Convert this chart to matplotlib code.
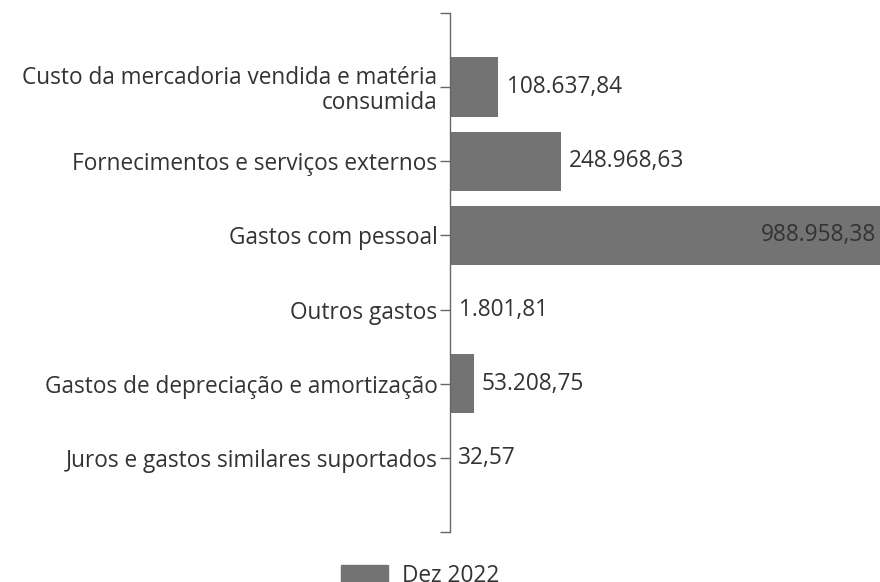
import matplotlib
matplotlib.use("Agg")
import matplotlib.pyplot as plt
from matplotlib.patches import Patch

plt.rcParams['font.family'] = ['Open Sans', 'DejaVu Sans']

categorias = ["Custo da mercadoria vendida e matéria\nconsumida",
              "Fornecimentos e serviços externos",
              "Gastos com pessoal",
              "Outros gastos",
              "Gastos de depreciação e amortização",
              "Juros e gastos similares suportados"]
valores = [108637.84, 248968.63, 988958.38, 1801.81, 53208.75, 32.57]
rotulos = ["108.637,84", "248.968,63", "988.958,38", "1.801,81", "53.208,75", "32,57"]
serie = "Dez 2022"

cor_barra = "#737373"
cor_texto = "#333333"
fs = 16.3

fig = plt.figure(figsize=(8.8, 5.82), dpi=100)
ax = fig.add_axes([450/880, 1 - 532/582, 430/880, 519/582])

pos = list(range(len(categorias)))
ax.barh(pos, valores, height=0.8, color=cor_barra)
ax.set_xlim(0, 966000)
ax.set_ylim(len(categorias), -1)

for p, v, r in zip(pos, valores, rotulos):
    if v > 800000:
        ax.annotate(r, (966000, p), xytext=(-3, 0), textcoords="offset points",
                    ha="right", va="center", fontsize=fs, color=cor_texto)
    else:
        ax.annotate(r, (v, p), xytext=(6, 0), textcoords="offset points",
                    ha="left", va="center", fontsize=fs, color=cor_texto)

ax.set_yticks([-1] + pos + [len(categorias)])
ax.set_yticklabels([""] + categorias + [""], fontsize=fs, color=cor_texto, linespacing=1.05)
ax.tick_params(axis="y", length=7, width=1, color="#666666", pad=2)
ax.set_xticks([])
for s in ["top", "right", "bottom"]:
    ax.spines[s].set_visible(False)
ax.spines["left"].set_color("#666666")
ax.spines["left"].set_linewidth(1)

fig.legend(handles=[Patch(color=cor_barra, label=serie)], loc="lower center",
           bbox_to_anchor=(0.477, -0.046), frameon=False, fontsize=fs,
           handlelength=2.1, handleheight=1.0, handletextpad=0.6, labelcolor=cor_texto)

fig.savefig("out.png", dpi=100)
